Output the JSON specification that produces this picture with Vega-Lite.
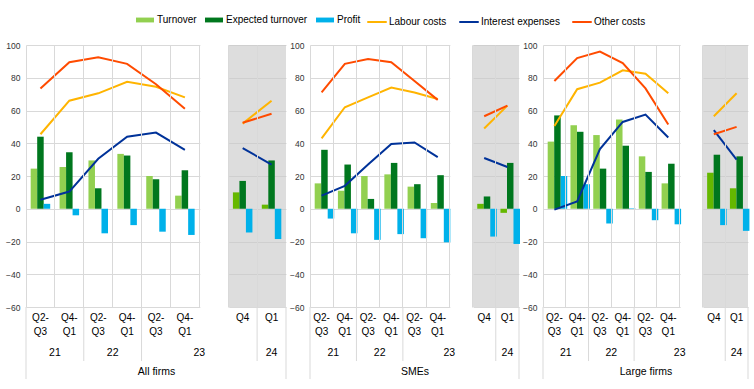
{
  "$schema": "https://vega.github.io/schema/vega-lite/v6.json",
  "padding": {"left": 5, "top": 11, "right": 5, "bottom": 5},
  "autosize": {"type": "pad"},
  "spacing": 2,
  "datasets": {
    "gap": [{"period": "gap"}],
    "outlook": [{"period": "Q4 23"}, {"period": "Q1 24"}],
    "periods": [
      {"period": "Q2-Q3 21", "label": "Q2-\nQ3"},
      {"period": "Q4-Q1 21", "label": "Q4-\nQ1"},
      {"period": "Q2-Q3 22", "label": "Q2-\nQ3"},
      {"period": "Q4-Q1 22", "label": "Q4-\nQ1"},
      {"period": "Q2-Q3 23", "label": "Q2-\nQ3"},
      {"period": "Q4-Q1 23", "label": "Q4-\nQ1"},
      {"period": "Q4 23", "label": "Q4"},
      {"period": "Q1 24", "label": "Q1"}
    ],
    "years": [
      {"year": "21", "period": "Q4-Q1 21"},
      {"year": "22", "period": "Q4-Q1 22"},
      {"year": "23", "period": "gap"},
      {"year": "24", "period": "Q1 24"}
    ],
    "breaks": [{"period": "Q2-Q3 22"}, {"period": "Q2-Q3 23"}, {"period": "Q1 24"}],
    "leftEdge": [{"period": "Q2-Q3 21"}],
    "rightEdge": [{"period": "Q1 24"}],
    "values": [
      {"group": "All firms", "period": "Q2-Q3 21", "series": "Turnover", "value": 24.5, "part": "history"},
      {"group": "All firms", "period": "Q4-Q1 21", "series": "Turnover", "value": 25.5, "part": "history"},
      {"group": "All firms", "period": "Q2-Q3 22", "series": "Turnover", "value": 29.5, "part": "history"},
      {"group": "All firms", "period": "Q4-Q1 22", "series": "Turnover", "value": 33.5, "part": "history"},
      {"group": "All firms", "period": "Q2-Q3 23", "series": "Turnover", "value": 20, "part": "history"},
      {"group": "All firms", "period": "Q4-Q1 23", "series": "Turnover", "value": 8, "part": "history"},
      {"group": "All firms", "period": "Q4 23", "series": "Turnover", "value": 10, "part": "outlook"},
      {"group": "All firms", "period": "Q1 24", "series": "Turnover", "value": 2.5, "part": "outlook"},
      {"group": "All firms", "period": "Q2-Q3 21", "series": "Expected turnover", "value": 44, "part": "history"},
      {"group": "All firms", "period": "Q4-Q1 21", "series": "Expected turnover", "value": 34.5, "part": "history"},
      {"group": "All firms", "period": "Q2-Q3 22", "series": "Expected turnover", "value": 12.5, "part": "history"},
      {"group": "All firms", "period": "Q4-Q1 22", "series": "Expected turnover", "value": 32.5, "part": "history"},
      {"group": "All firms", "period": "Q2-Q3 23", "series": "Expected turnover", "value": 18, "part": "history"},
      {"group": "All firms", "period": "Q4-Q1 23", "series": "Expected turnover", "value": 23.5, "part": "history"},
      {"group": "All firms", "period": "Q4 23", "series": "Expected turnover", "value": 17, "part": "outlook"},
      {"group": "All firms", "period": "Q1 24", "series": "Expected turnover", "value": 29.5, "part": "outlook"},
      {"group": "All firms", "period": "Q2-Q3 21", "series": "Profit", "value": 3, "part": "history"},
      {"group": "All firms", "period": "Q4-Q1 21", "series": "Profit", "value": -4, "part": "history"},
      {"group": "All firms", "period": "Q2-Q3 22", "series": "Profit", "value": -15, "part": "history"},
      {"group": "All firms", "period": "Q4-Q1 22", "series": "Profit", "value": -10, "part": "history"},
      {"group": "All firms", "period": "Q2-Q3 23", "series": "Profit", "value": -14, "part": "history"},
      {"group": "All firms", "period": "Q4-Q1 23", "series": "Profit", "value": -16, "part": "history"},
      {"group": "All firms", "period": "Q4 23", "series": "Profit", "value": -14.5, "part": "outlook"},
      {"group": "All firms", "period": "Q1 24", "series": "Profit", "value": -18.5, "part": "outlook"},
      {"group": "All firms", "period": "Q2-Q3 21", "series": "Labour costs", "value": 45.5, "part": "history"},
      {"group": "All firms", "period": "Q4-Q1 21", "series": "Labour costs", "value": 66, "part": "history"},
      {"group": "All firms", "period": "Q2-Q3 22", "series": "Labour costs", "value": 70.5, "part": "history"},
      {"group": "All firms", "period": "Q4-Q1 22", "series": "Labour costs", "value": 77.5, "part": "history"},
      {"group": "All firms", "period": "Q2-Q3 23", "series": "Labour costs", "value": 74.5, "part": "history"},
      {"group": "All firms", "period": "Q4-Q1 23", "series": "Labour costs", "value": 68, "part": "history"},
      {"group": "All firms", "period": "Q4 23", "series": "Labour costs", "value": 52, "part": "outlook"},
      {"group": "All firms", "period": "Q1 24", "series": "Labour costs", "value": 66, "part": "outlook"},
      {"group": "All firms", "period": "Q2-Q3 21", "series": "Interest expenses", "value": 5.5, "part": "history"},
      {"group": "All firms", "period": "Q4-Q1 21", "series": "Interest expenses", "value": 10.5, "part": "history"},
      {"group": "All firms", "period": "Q2-Q3 22", "series": "Interest expenses", "value": 30.5, "part": "history"},
      {"group": "All firms", "period": "Q4-Q1 22", "series": "Interest expenses", "value": 44, "part": "history"},
      {"group": "All firms", "period": "Q2-Q3 23", "series": "Interest expenses", "value": 46.5, "part": "history"},
      {"group": "All firms", "period": "Q4-Q1 23", "series": "Interest expenses", "value": 36, "part": "history"},
      {"group": "All firms", "period": "Q4 23", "series": "Interest expenses", "value": 37, "part": "outlook"},
      {"group": "All firms", "period": "Q1 24", "series": "Interest expenses", "value": 27, "part": "outlook"},
      {"group": "All firms", "period": "Q2-Q3 21", "series": "Other costs", "value": 73.5, "part": "history"},
      {"group": "All firms", "period": "Q4-Q1 21", "series": "Other costs", "value": 89.5, "part": "history"},
      {"group": "All firms", "period": "Q2-Q3 22", "series": "Other costs", "value": 92.5, "part": "history"},
      {"group": "All firms", "period": "Q4-Q1 22", "series": "Other costs", "value": 88.5, "part": "history"},
      {"group": "All firms", "period": "Q2-Q3 23", "series": "Other costs", "value": 76, "part": "history"},
      {"group": "All firms", "period": "Q4-Q1 23", "series": "Other costs", "value": 61, "part": "history"},
      {"group": "All firms", "period": "Q4 23", "series": "Other costs", "value": 52.5, "part": "outlook"},
      {"group": "All firms", "period": "Q1 24", "series": "Other costs", "value": 58, "part": "outlook"},

      {"group": "SMEs", "period": "Q2-Q3 21", "series": "Turnover", "value": 15.5, "part": "history"},
      {"group": "SMEs", "period": "Q4-Q1 21", "series": "Turnover", "value": 11, "part": "history"},
      {"group": "SMEs", "period": "Q2-Q3 22", "series": "Turnover", "value": 20, "part": "history"},
      {"group": "SMEs", "period": "Q4-Q1 22", "series": "Turnover", "value": 21, "part": "history"},
      {"group": "SMEs", "period": "Q2-Q3 23", "series": "Turnover", "value": 13.5, "part": "history"},
      {"group": "SMEs", "period": "Q4-Q1 23", "series": "Turnover", "value": 3.5, "part": "history"},
      {"group": "SMEs", "period": "Q4 23", "series": "Turnover", "value": 3, "part": "outlook"},
      {"group": "SMEs", "period": "Q1 24", "series": "Turnover", "value": -2.5, "part": "outlook"},
      {"group": "SMEs", "period": "Q2-Q3 21", "series": "Expected turnover", "value": 36, "part": "history"},
      {"group": "SMEs", "period": "Q4-Q1 21", "series": "Expected turnover", "value": 27, "part": "history"},
      {"group": "SMEs", "period": "Q2-Q3 22", "series": "Expected turnover", "value": 6, "part": "history"},
      {"group": "SMEs", "period": "Q4-Q1 22", "series": "Expected turnover", "value": 28, "part": "history"},
      {"group": "SMEs", "period": "Q2-Q3 23", "series": "Expected turnover", "value": 15, "part": "history"},
      {"group": "SMEs", "period": "Q4-Q1 23", "series": "Expected turnover", "value": 20.5, "part": "history"},
      {"group": "SMEs", "period": "Q4 23", "series": "Expected turnover", "value": 7.5, "part": "outlook"},
      {"group": "SMEs", "period": "Q1 24", "series": "Expected turnover", "value": 28, "part": "outlook"},
      {"group": "SMEs", "period": "Q2-Q3 21", "series": "Profit", "value": -6, "part": "history"},
      {"group": "SMEs", "period": "Q4-Q1 21", "series": "Profit", "value": -15, "part": "history"},
      {"group": "SMEs", "period": "Q2-Q3 22", "series": "Profit", "value": -19, "part": "history"},
      {"group": "SMEs", "period": "Q4-Q1 22", "series": "Profit", "value": -15.5, "part": "history"},
      {"group": "SMEs", "period": "Q2-Q3 23", "series": "Profit", "value": -18, "part": "history"},
      {"group": "SMEs", "period": "Q4-Q1 23", "series": "Profit", "value": -20.5, "part": "history"},
      {"group": "SMEs", "period": "Q4 23", "series": "Profit", "value": -17, "part": "outlook"},
      {"group": "SMEs", "period": "Q1 24", "series": "Profit", "value": -21.5, "part": "outlook"},
      {"group": "SMEs", "period": "Q2-Q3 21", "series": "Labour costs", "value": 43, "part": "history"},
      {"group": "SMEs", "period": "Q4-Q1 21", "series": "Labour costs", "value": 62, "part": "history"},
      {"group": "SMEs", "period": "Q2-Q3 22", "series": "Labour costs", "value": 68, "part": "history"},
      {"group": "SMEs", "period": "Q4-Q1 22", "series": "Labour costs", "value": 74, "part": "history"},
      {"group": "SMEs", "period": "Q2-Q3 23", "series": "Labour costs", "value": 71, "part": "history"},
      {"group": "SMEs", "period": "Q4-Q1 23", "series": "Labour costs", "value": 67, "part": "history"},
      {"group": "SMEs", "period": "Q4 23", "series": "Labour costs", "value": 49, "part": "outlook"},
      {"group": "SMEs", "period": "Q1 24", "series": "Labour costs", "value": 63, "part": "outlook"},
      {"group": "SMEs", "period": "Q2-Q3 21", "series": "Interest expenses", "value": 8, "part": "history"},
      {"group": "SMEs", "period": "Q4-Q1 21", "series": "Interest expenses", "value": 14, "part": "history"},
      {"group": "SMEs", "period": "Q2-Q3 22", "series": "Interest expenses", "value": 27, "part": "history"},
      {"group": "SMEs", "period": "Q4-Q1 22", "series": "Interest expenses", "value": 39.5, "part": "history"},
      {"group": "SMEs", "period": "Q2-Q3 23", "series": "Interest expenses", "value": 40.5, "part": "history"},
      {"group": "SMEs", "period": "Q4-Q1 23", "series": "Interest expenses", "value": 31.5, "part": "history"},
      {"group": "SMEs", "period": "Q4 23", "series": "Interest expenses", "value": 31, "part": "outlook"},
      {"group": "SMEs", "period": "Q1 24", "series": "Interest expenses", "value": 25.5, "part": "outlook"},
      {"group": "SMEs", "period": "Q2-Q3 21", "series": "Other costs", "value": 71, "part": "history"},
      {"group": "SMEs", "period": "Q4-Q1 21", "series": "Other costs", "value": 88.5, "part": "history"},
      {"group": "SMEs", "period": "Q2-Q3 22", "series": "Other costs", "value": 91.5, "part": "history"},
      {"group": "SMEs", "period": "Q4-Q1 22", "series": "Other costs", "value": 89.5, "part": "history"},
      {"group": "SMEs", "period": "Q2-Q3 23", "series": "Other costs", "value": 78, "part": "history"},
      {"group": "SMEs", "period": "Q4-Q1 23", "series": "Other costs", "value": 66.5, "part": "history"},
      {"group": "SMEs", "period": "Q4 23", "series": "Other costs", "value": 56.5, "part": "outlook"},
      {"group": "SMEs", "period": "Q1 24", "series": "Other costs", "value": 63, "part": "outlook"},

      {"group": "Large firms", "period": "Q2-Q3 21", "series": "Turnover", "value": 41, "part": "history"},
      {"group": "Large firms", "period": "Q4-Q1 21", "series": "Turnover", "value": 51, "part": "history"},
      {"group": "Large firms", "period": "Q2-Q3 22", "series": "Turnover", "value": 45, "part": "history"},
      {"group": "Large firms", "period": "Q4-Q1 22", "series": "Turnover", "value": 54.5, "part": "history"},
      {"group": "Large firms", "period": "Q2-Q3 23", "series": "Turnover", "value": 32, "part": "history"},
      {"group": "Large firms", "period": "Q4-Q1 23", "series": "Turnover", "value": 15.5, "part": "history"},
      {"group": "Large firms", "period": "Q4 23", "series": "Turnover", "value": 22, "part": "outlook"},
      {"group": "Large firms", "period": "Q1 24", "series": "Turnover", "value": 12.5, "part": "outlook"},
      {"group": "Large firms", "period": "Q2-Q3 21", "series": "Expected turnover", "value": 57, "part": "history"},
      {"group": "Large firms", "period": "Q4-Q1 21", "series": "Expected turnover", "value": 47, "part": "history"},
      {"group": "Large firms", "period": "Q2-Q3 22", "series": "Expected turnover", "value": 24.5, "part": "history"},
      {"group": "Large firms", "period": "Q4-Q1 22", "series": "Expected turnover", "value": 38.5, "part": "history"},
      {"group": "Large firms", "period": "Q2-Q3 23", "series": "Expected turnover", "value": 22.5, "part": "history"},
      {"group": "Large firms", "period": "Q4-Q1 23", "series": "Expected turnover", "value": 27.5, "part": "history"},
      {"group": "Large firms", "period": "Q4 23", "series": "Expected turnover", "value": 33, "part": "outlook"},
      {"group": "Large firms", "period": "Q1 24", "series": "Expected turnover", "value": 32, "part": "outlook"},
      {"group": "Large firms", "period": "Q2-Q3 21", "series": "Profit", "value": 20, "part": "history"},
      {"group": "Large firms", "period": "Q4-Q1 21", "series": "Profit", "value": 15, "part": "history"},
      {"group": "Large firms", "period": "Q2-Q3 22", "series": "Profit", "value": -9, "part": "history"},
      {"group": "Large firms", "period": "Q4-Q1 22", "series": "Profit", "value": 0.3, "part": "history"},
      {"group": "Large firms", "period": "Q2-Q3 23", "series": "Profit", "value": -7, "part": "history"},
      {"group": "Large firms", "period": "Q4-Q1 23", "series": "Profit", "value": -9.5, "part": "history"},
      {"group": "Large firms", "period": "Q4 23", "series": "Profit", "value": -10, "part": "outlook"},
      {"group": "Large firms", "period": "Q1 24", "series": "Profit", "value": -13.5, "part": "outlook"},
      {"group": "Large firms", "period": "Q2-Q3 21", "series": "Labour costs", "value": 50.5, "part": "history"},
      {"group": "Large firms", "period": "Q4-Q1 21", "series": "Labour costs", "value": 73, "part": "history"},
      {"group": "Large firms", "period": "Q2-Q3 22", "series": "Labour costs", "value": 77, "part": "history"},
      {"group": "Large firms", "period": "Q4-Q1 22", "series": "Labour costs", "value": 84.5, "part": "history"},
      {"group": "Large firms", "period": "Q2-Q3 23", "series": "Labour costs", "value": 82.5, "part": "history"},
      {"group": "Large firms", "period": "Q4-Q1 23", "series": "Labour costs", "value": 70.5, "part": "history"},
      {"group": "Large firms", "period": "Q4 23", "series": "Labour costs", "value": 56.5, "part": "outlook"},
      {"group": "Large firms", "period": "Q1 24", "series": "Labour costs", "value": 70.5, "part": "outlook"},
      {"group": "Large firms", "period": "Q2-Q3 21", "series": "Interest expenses", "value": -0.5, "part": "history"},
      {"group": "Large firms", "period": "Q4-Q1 21", "series": "Interest expenses", "value": 4.5, "part": "history"},
      {"group": "Large firms", "period": "Q2-Q3 22", "series": "Interest expenses", "value": 36.5, "part": "history"},
      {"group": "Large firms", "period": "Q4-Q1 22", "series": "Interest expenses", "value": 53, "part": "history"},
      {"group": "Large firms", "period": "Q2-Q3 23", "series": "Interest expenses", "value": 57.5, "part": "history"},
      {"group": "Large firms", "period": "Q4-Q1 23", "series": "Interest expenses", "value": 43.5, "part": "history"},
      {"group": "Large firms", "period": "Q4 23", "series": "Interest expenses", "value": 48, "part": "outlook"},
      {"group": "Large firms", "period": "Q1 24", "series": "Interest expenses", "value": 30, "part": "outlook"},
      {"group": "Large firms", "period": "Q2-Q3 21", "series": "Other costs", "value": 78, "part": "history"},
      {"group": "Large firms", "period": "Q4-Q1 21", "series": "Other costs", "value": 92, "part": "history"},
      {"group": "Large firms", "period": "Q2-Q3 22", "series": "Other costs", "value": 96, "part": "history"},
      {"group": "Large firms", "period": "Q4-Q1 22", "series": "Other costs", "value": 89, "part": "history"},
      {"group": "Large firms", "period": "Q2-Q3 23", "series": "Other costs", "value": 73.5, "part": "history"},
      {"group": "Large firms", "period": "Q4-Q1 23", "series": "Other costs", "value": 51.5, "part": "history"},
      {"group": "Large firms", "period": "Q4 23", "series": "Other costs", "value": 45.5, "part": "outlook"},
      {"group": "Large firms", "period": "Q1 24", "series": "Other costs", "value": 50, "part": "outlook"}
    ]
  },
  "hconcat": [
    {
      "width": 260, "height": 262,
      "layer": [
        {"data": {"name": "gap"}, "mark": {"type": "rect", "fill": "white", "xOffset": 1, "y2Offset": 1},
         "encoding": {
           "x": {"field": "period", "type": "nominal", "scale": {"domain": ["Q2-Q3 21","Q4-Q1 21","Q2-Q3 22","Q4-Q1 22","Q2-Q3 23","Q4-Q1 23","gap","Q4 23","Q1 24"], "paddingInner": 0, "paddingOuter": 0}, "axis": {"title": "All firms", "labels": false, "ticks": false, "domain": false, "grid": true, "bandPosition": 0}},
           "y": {"datum": 100, "type": "quantitative", "scale": {"domain": [-60, 100], "nice": false}, "axis": {"values": [-60, -40, -20, 0, 20, 40, 60, 80, 100], "title": null, "grid": true}},
           "y2": {"datum": -60}}},
        {"data": {"name": "outlook"}, "mark": {"type": "rect", "fill": "#c8c8c8", "opacity": 0.62},
         "encoding": {
           "x": {"field": "period", "type": "nominal", "scale": {"domain": ["Q2-Q3 21","Q4-Q1 21","Q2-Q3 22","Q4-Q1 22","Q2-Q3 23","Q4-Q1 23","gap","Q4 23","Q1 24"], "paddingInner": 0, "paddingOuter": 0}, "axis": {"title": "All firms", "labels": false, "ticks": false, "domain": false, "grid": true, "bandPosition": 0}},
           "y": {"datum": 100, "type": "quantitative", "scale": {"domain": [-60, 100], "nice": false}, "axis": {"values": [-60, -40, -20, 0, 20, 40, 60, 80, 100], "title": null, "grid": true}},
           "y2": {"datum": -60}}},
        {"data": {"name": "values"},
         "transform": [{"filter": "datum.group === 'All firms'"}, {"filter": {"field": "series", "oneOf": ["Turnover", "Expected turnover", "Profit"]}}],
         "mark": {"type": "bar"},
         "encoding": {
           "x": {"field": "period", "type": "nominal", "scale": {"domain": ["Q2-Q3 21","Q4-Q1 21","Q2-Q3 22","Q4-Q1 22","Q2-Q3 23","Q4-Q1 23","gap","Q4 23","Q1 24"], "paddingInner": 0, "paddingOuter": 0}, "axis": {"title": "All firms", "labels": false, "ticks": false, "domain": false, "grid": true, "bandPosition": 0}},
           "y": {"field": "value", "type": "quantitative", "scale": {"domain": [-60, 100], "nice": false}, "axis": {"values": [-60, -40, -20, 0, 20, 40, 60, 80, 100], "title": null, "grid": true}},
           "xOffset": {"field": "series", "scale": {"domain": ["Turnover", "Expected turnover", "Profit"], "paddingInner": 0, "paddingOuter": 0.72}},
           "fill": {"condition": {"test": "datum.series === 'Turnover' && datum.part === 'outlook'", "value": "#65b800"},
             "field": "series", "type": "nominal",
             "scale": {"domain": ["Turnover", "Expected turnover", "Profit"], "range": ["#92d050", "#00771e", "#00b1ea"]},
             "legend": {"orient": "none", "legendX": 110, "legendY": -34, "symbolType": "M-1,-0.27H1V0.27H-1Z", "symbolSize": 324, "labelOffset": 3}}}},
        {"data": {"name": "values"},
         "transform": [{"filter": "datum.group === 'All firms'"}, {"filter": {"field": "series", "oneOf": ["Labour costs", "Interest expenses", "Other costs"]}}],
         "mark": {"type": "line", "strokeWidth": 2},
         "encoding": {
           "x": {"field": "period", "type": "nominal", "scale": {"domain": ["Q2-Q3 21","Q4-Q1 21","Q2-Q3 22","Q4-Q1 22","Q2-Q3 23","Q4-Q1 23","gap","Q4 23","Q1 24"], "paddingInner": 0, "paddingOuter": 0}, "axis": {"title": "All firms", "labels": false, "ticks": false, "domain": false, "grid": true, "bandPosition": 0}},
           "y": {"field": "value", "type": "quantitative", "scale": {"domain": [-60, 100], "nice": false}, "axis": {"values": [-60, -40, -20, 0, 20, 40, 60, 80, 100], "title": null, "grid": true}},
           "stroke": {"field": "series", "type": "nominal",
             "scale": {"domain": ["Labour costs", "Interest expenses", "Other costs"], "range": ["#ffb400", "#003299", "#ff4b00"]},
             "legend": {"orient": "none", "legendX": 340, "legendY": -34, "symbolType": "stroke", "symbolSize": 380, "symbolStrokeWidth": 2, "labelOffset": 1}},
           "detail": {"field": "part"}}},
        {"data": {"name": "periods"},
         "mark": {"type": "text", "fontSize": 10, "baseline": "top", "lineBreak": "\n", "lineHeight": 14, "color": "#000"},
         "encoding": {
           "x": {"field": "period", "type": "nominal", "scale": {"domain": ["Q2-Q3 21","Q4-Q1 21","Q2-Q3 22","Q4-Q1 22","Q2-Q3 23","Q4-Q1 23","gap","Q4 23","Q1 24"], "paddingInner": 0, "paddingOuter": 0}, "axis": {"title": "All firms", "labels": false, "ticks": false, "domain": false, "grid": true, "bandPosition": 0}},
           "y": {"datum": -63.5, "type": "quantitative", "scale": {"domain": [-60, 100], "nice": false}, "axis": {"values": [-60, -40, -20, 0, 20, 40, 60, 80, 100], "title": null, "grid": true}},
           "text": {"field": "label"}}},
        {"data": {"name": "years"}, "transform": [{"filter": "datum.year !== '24'"}],
         "mark": {"type": "text", "fontSize": 10.5, "baseline": "middle", "color": "#000"},
         "encoding": {
           "x": {"field": "period", "type": "nominal", "bandPosition": 0, "scale": {"domain": ["Q2-Q3 21","Q4-Q1 21","Q2-Q3 22","Q4-Q1 22","Q2-Q3 23","Q4-Q1 23","gap","Q4 23","Q1 24"], "paddingInner": 0, "paddingOuter": 0}, "axis": {"title": "All firms", "labels": false, "ticks": false, "domain": false, "grid": true, "bandPosition": 0}},
           "y": {"datum": -88, "type": "quantitative", "scale": {"domain": [-60, 100], "nice": false}, "axis": {"values": [-60, -40, -20, 0, 20, 40, 60, 80, 100], "title": null, "grid": true}},
           "text": {"field": "year"}}},
        {"data": {"name": "years"}, "transform": [{"filter": "datum.year === '24'"}],
         "mark": {"type": "text", "fontSize": 10.5, "baseline": "middle", "color": "#000"},
         "encoding": {
           "x": {"field": "period", "type": "nominal", "scale": {"domain": ["Q2-Q3 21","Q4-Q1 21","Q2-Q3 22","Q4-Q1 22","Q2-Q3 23","Q4-Q1 23","gap","Q4 23","Q1 24"], "paddingInner": 0, "paddingOuter": 0}, "axis": {"title": "All firms", "labels": false, "ticks": false, "domain": false, "grid": true, "bandPosition": 0}},
           "y": {"datum": -88, "type": "quantitative", "scale": {"domain": [-60, 100], "nice": false}, "axis": {"values": [-60, -40, -20, 0, 20, 40, 60, 80, 100], "title": null, "grid": true}},
           "text": {"field": "year"}}},
        {"data": {"name": "breaks"}, "mark": {"type": "rule", "color": "#d9d9d9"},
         "encoding": {
           "x": {"field": "period", "type": "nominal", "bandPosition": 0, "scale": {"domain": ["Q2-Q3 21","Q4-Q1 21","Q2-Q3 22","Q4-Q1 22","Q2-Q3 23","Q4-Q1 23","gap","Q4 23","Q1 24"], "paddingInner": 0, "paddingOuter": 0}, "axis": {"title": "All firms", "labels": false, "ticks": false, "domain": false, "grid": true, "bandPosition": 0}},
           "y": {"datum": -60, "type": "quantitative", "scale": {"domain": [-60, 100], "nice": false}, "axis": {"values": [-60, -40, -20, 0, 20, 40, 60, 80, 100], "title": null, "grid": true}},
           "y2": {"datum": -93}}},
        {"data": {"name": "leftEdge"}, "mark": {"type": "rule", "color": "#d9d9d9"},
         "encoding": {
           "x": {"field": "period", "type": "nominal", "bandPosition": 0, "scale": {"domain": ["Q2-Q3 21","Q4-Q1 21","Q2-Q3 22","Q4-Q1 22","Q2-Q3 23","Q4-Q1 23","gap","Q4 23","Q1 24"], "paddingInner": 0, "paddingOuter": 0}, "axis": {"title": "All firms", "labels": false, "ticks": false, "domain": false, "grid": true, "bandPosition": 0}},
           "y": {"datum": -60, "type": "quantitative", "scale": {"domain": [-60, 100], "nice": false}, "axis": {"values": [-60, -40, -20, 0, 20, 40, 60, 80, 100], "title": null, "grid": true}},
           "y2": {"datum": -104}}},
        {"data": {"name": "rightEdge"}, "mark": {"type": "rule", "color": "#d9d9d9"},
         "encoding": {
           "x": {"field": "period", "type": "nominal", "bandPosition": 1, "scale": {"domain": ["Q2-Q3 21","Q4-Q1 21","Q2-Q3 22","Q4-Q1 22","Q2-Q3 23","Q4-Q1 23","gap","Q4 23","Q1 24"], "paddingInner": 0, "paddingOuter": 0}, "axis": {"title": "All firms", "labels": false, "ticks": false, "domain": false, "grid": true, "bandPosition": 0}},
           "y": {"datum": -60, "type": "quantitative", "scale": {"domain": [-60, 100], "nice": false}, "axis": {"values": [-60, -40, -20, 0, 20, 40, 60, 80, 100], "title": null, "grid": true}},
           "y2": {"datum": -104}}}
      ]
    },
    {
      "width": 209, "height": 262,
      "layer": [
        {"data": {"name": "gap"}, "mark": {"type": "rect", "fill": "white", "xOffset": 1, "y2Offset": 1},
         "encoding": {
           "x": {"field": "period", "type": "nominal", "scale": {"domain": ["Q2-Q3 21","Q4-Q1 21","Q2-Q3 22","Q4-Q1 22","Q2-Q3 23","Q4-Q1 23","gap","Q4 23","Q1 24"], "paddingInner": 0, "paddingOuter": 0}, "axis": {"title": "SMEs", "labels": false, "ticks": false, "domain": false, "grid": true, "bandPosition": 0}},
           "y": {"datum": 100, "type": "quantitative", "scale": {"domain": [-60, 100], "nice": false}, "axis": {"values": [-60, -40, -20, 0, 20, 40, 60, 80, 100], "title": null, "grid": true}},
           "y2": {"datum": -60}}},
        {"data": {"name": "outlook"}, "mark": {"type": "rect", "fill": "#c8c8c8", "opacity": 0.62},
         "encoding": {
           "x": {"field": "period", "type": "nominal", "scale": {"domain": ["Q2-Q3 21","Q4-Q1 21","Q2-Q3 22","Q4-Q1 22","Q2-Q3 23","Q4-Q1 23","gap","Q4 23","Q1 24"], "paddingInner": 0, "paddingOuter": 0}, "axis": {"title": "SMEs", "labels": false, "ticks": false, "domain": false, "grid": true, "bandPosition": 0}},
           "y": {"datum": 100, "type": "quantitative", "scale": {"domain": [-60, 100], "nice": false}, "axis": {"values": [-60, -40, -20, 0, 20, 40, 60, 80, 100], "title": null, "grid": true}},
           "y2": {"datum": -60}}},
        {"data": {"name": "values"},
         "transform": [{"filter": "datum.group === 'SMEs'"}, {"filter": {"field": "series", "oneOf": ["Turnover", "Expected turnover", "Profit"]}}],
         "mark": {"type": "bar"},
         "encoding": {
           "x": {"field": "period", "type": "nominal", "scale": {"domain": ["Q2-Q3 21","Q4-Q1 21","Q2-Q3 22","Q4-Q1 22","Q2-Q3 23","Q4-Q1 23","gap","Q4 23","Q1 24"], "paddingInner": 0, "paddingOuter": 0}, "axis": {"title": "SMEs", "labels": false, "ticks": false, "domain": false, "grid": true, "bandPosition": 0}},
           "y": {"field": "value", "type": "quantitative", "scale": {"domain": [-60, 100], "nice": false}, "axis": {"values": [-60, -40, -20, 0, 20, 40, 60, 80, 100], "title": null, "grid": true}},
           "xOffset": {"field": "series", "scale": {"domain": ["Turnover", "Expected turnover", "Profit"], "paddingInner": 0, "paddingOuter": 0.72}},
           "fill": {"condition": {"test": "datum.series === 'Turnover' && datum.part === 'outlook'", "value": "#65b800"},
             "field": "series", "type": "nominal"}}},
        {"data": {"name": "values"},
         "transform": [{"filter": "datum.group === 'SMEs'"}, {"filter": {"field": "series", "oneOf": ["Labour costs", "Interest expenses", "Other costs"]}}],
         "mark": {"type": "line", "strokeWidth": 2},
         "encoding": {
           "x": {"field": "period", "type": "nominal", "scale": {"domain": ["Q2-Q3 21","Q4-Q1 21","Q2-Q3 22","Q4-Q1 22","Q2-Q3 23","Q4-Q1 23","gap","Q4 23","Q1 24"], "paddingInner": 0, "paddingOuter": 0}, "axis": {"title": "SMEs", "labels": false, "ticks": false, "domain": false, "grid": true, "bandPosition": 0}},
           "y": {"field": "value", "type": "quantitative", "scale": {"domain": [-60, 100], "nice": false}, "axis": {"values": [-60, -40, -20, 0, 20, 40, 60, 80, 100], "title": null, "grid": true}},
           "stroke": {"field": "series", "type": "nominal"},
           "detail": {"field": "part"}}},
        {"data": {"name": "periods"},
         "mark": {"type": "text", "fontSize": 10, "baseline": "top", "lineBreak": "\n", "lineHeight": 14, "color": "#000"},
         "encoding": {
           "x": {"field": "period", "type": "nominal", "scale": {"domain": ["Q2-Q3 21","Q4-Q1 21","Q2-Q3 22","Q4-Q1 22","Q2-Q3 23","Q4-Q1 23","gap","Q4 23","Q1 24"], "paddingInner": 0, "paddingOuter": 0}, "axis": {"title": "SMEs", "labels": false, "ticks": false, "domain": false, "grid": true, "bandPosition": 0}},
           "y": {"datum": -63.5, "type": "quantitative", "scale": {"domain": [-60, 100], "nice": false}, "axis": {"values": [-60, -40, -20, 0, 20, 40, 60, 80, 100], "title": null, "grid": true}},
           "text": {"field": "label"}}},
        {"data": {"name": "years"}, "transform": [{"filter": "datum.year !== '24'"}],
         "mark": {"type": "text", "fontSize": 10.5, "baseline": "middle", "color": "#000"},
         "encoding": {
           "x": {"field": "period", "type": "nominal", "bandPosition": 0, "scale": {"domain": ["Q2-Q3 21","Q4-Q1 21","Q2-Q3 22","Q4-Q1 22","Q2-Q3 23","Q4-Q1 23","gap","Q4 23","Q1 24"], "paddingInner": 0, "paddingOuter": 0}, "axis": {"title": "SMEs", "labels": false, "ticks": false, "domain": false, "grid": true, "bandPosition": 0}},
           "y": {"datum": -88, "type": "quantitative", "scale": {"domain": [-60, 100], "nice": false}, "axis": {"values": [-60, -40, -20, 0, 20, 40, 60, 80, 100], "title": null, "grid": true}},
           "text": {"field": "year"}}},
        {"data": {"name": "years"}, "transform": [{"filter": "datum.year === '24'"}],
         "mark": {"type": "text", "fontSize": 10.5, "baseline": "middle", "color": "#000"},
         "encoding": {
           "x": {"field": "period", "type": "nominal", "scale": {"domain": ["Q2-Q3 21","Q4-Q1 21","Q2-Q3 22","Q4-Q1 22","Q2-Q3 23","Q4-Q1 23","gap","Q4 23","Q1 24"], "paddingInner": 0, "paddingOuter": 0}, "axis": {"title": "SMEs", "labels": false, "ticks": false, "domain": false, "grid": true, "bandPosition": 0}},
           "y": {"datum": -88, "type": "quantitative", "scale": {"domain": [-60, 100], "nice": false}, "axis": {"values": [-60, -40, -20, 0, 20, 40, 60, 80, 100], "title": null, "grid": true}},
           "text": {"field": "year"}}},
        {"data": {"name": "breaks"}, "mark": {"type": "rule", "color": "#d9d9d9"},
         "encoding": {
           "x": {"field": "period", "type": "nominal", "bandPosition": 0, "scale": {"domain": ["Q2-Q3 21","Q4-Q1 21","Q2-Q3 22","Q4-Q1 22","Q2-Q3 23","Q4-Q1 23","gap","Q4 23","Q1 24"], "paddingInner": 0, "paddingOuter": 0}, "axis": {"title": "SMEs", "labels": false, "ticks": false, "domain": false, "grid": true, "bandPosition": 0}},
           "y": {"datum": -60, "type": "quantitative", "scale": {"domain": [-60, 100], "nice": false}, "axis": {"values": [-60, -40, -20, 0, 20, 40, 60, 80, 100], "title": null, "grid": true}},
           "y2": {"datum": -93}}},
        {"data": {"name": "leftEdge"}, "mark": {"type": "rule", "color": "#d9d9d9"},
         "encoding": {
           "x": {"field": "period", "type": "nominal", "bandPosition": 0, "scale": {"domain": ["Q2-Q3 21","Q4-Q1 21","Q2-Q3 22","Q4-Q1 22","Q2-Q3 23","Q4-Q1 23","gap","Q4 23","Q1 24"], "paddingInner": 0, "paddingOuter": 0}, "axis": {"title": "SMEs", "labels": false, "ticks": false, "domain": false, "grid": true, "bandPosition": 0}},
           "y": {"datum": -60, "type": "quantitative", "scale": {"domain": [-60, 100], "nice": false}, "axis": {"values": [-60, -40, -20, 0, 20, 40, 60, 80, 100], "title": null, "grid": true}},
           "y2": {"datum": -104}}},
        {"data": {"name": "rightEdge"}, "mark": {"type": "rule", "color": "#d9d9d9"},
         "encoding": {
           "x": {"field": "period", "type": "nominal", "bandPosition": 1, "scale": {"domain": ["Q2-Q3 21","Q4-Q1 21","Q2-Q3 22","Q4-Q1 22","Q2-Q3 23","Q4-Q1 23","gap","Q4 23","Q1 24"], "paddingInner": 0, "paddingOuter": 0}, "axis": {"title": "SMEs", "labels": false, "ticks": false, "domain": false, "grid": true, "bandPosition": 0}},
           "y": {"datum": -60, "type": "quantitative", "scale": {"domain": [-60, 100], "nice": false}, "axis": {"values": [-60, -40, -20, 0, 20, 40, 60, 80, 100], "title": null, "grid": true}},
           "y2": {"datum": -104}}}
      ]
    },
    {
      "width": 205, "height": 262,
      "layer": [
        {"data": {"name": "gap"}, "mark": {"type": "rect", "fill": "white", "xOffset": 1, "y2Offset": 1},
         "encoding": {
           "x": {"field": "period", "type": "nominal", "scale": {"domain": ["Q2-Q3 21","Q4-Q1 21","Q2-Q3 22","Q4-Q1 22","Q2-Q3 23","Q4-Q1 23","gap","Q4 23","Q1 24"], "paddingInner": 0, "paddingOuter": 0}, "axis": {"title": "Large firms", "labels": false, "ticks": false, "domain": false, "grid": true, "bandPosition": 0}},
           "y": {"datum": 100, "type": "quantitative", "scale": {"domain": [-60, 100], "nice": false}, "axis": {"values": [-60, -40, -20, 0, 20, 40, 60, 80, 100], "title": null, "grid": true}},
           "y2": {"datum": -60}}},
        {"data": {"name": "outlook"}, "mark": {"type": "rect", "fill": "#c8c8c8", "opacity": 0.62},
         "encoding": {
           "x": {"field": "period", "type": "nominal", "scale": {"domain": ["Q2-Q3 21","Q4-Q1 21","Q2-Q3 22","Q4-Q1 22","Q2-Q3 23","Q4-Q1 23","gap","Q4 23","Q1 24"], "paddingInner": 0, "paddingOuter": 0}, "axis": {"title": "Large firms", "labels": false, "ticks": false, "domain": false, "grid": true, "bandPosition": 0}},
           "y": {"datum": 100, "type": "quantitative", "scale": {"domain": [-60, 100], "nice": false}, "axis": {"values": [-60, -40, -20, 0, 20, 40, 60, 80, 100], "title": null, "grid": true}},
           "y2": {"datum": -60}}},
        {"data": {"name": "values"},
         "transform": [{"filter": "datum.group === 'Large firms'"}, {"filter": {"field": "series", "oneOf": ["Turnover", "Expected turnover", "Profit"]}}],
         "mark": {"type": "bar"},
         "encoding": {
           "x": {"field": "period", "type": "nominal", "scale": {"domain": ["Q2-Q3 21","Q4-Q1 21","Q2-Q3 22","Q4-Q1 22","Q2-Q3 23","Q4-Q1 23","gap","Q4 23","Q1 24"], "paddingInner": 0, "paddingOuter": 0}, "axis": {"title": "Large firms", "labels": false, "ticks": false, "domain": false, "grid": true, "bandPosition": 0}},
           "y": {"field": "value", "type": "quantitative", "scale": {"domain": [-60, 100], "nice": false}, "axis": {"values": [-60, -40, -20, 0, 20, 40, 60, 80, 100], "title": null, "grid": true}},
           "xOffset": {"field": "series", "scale": {"domain": ["Turnover", "Expected turnover", "Profit"], "paddingInner": 0, "paddingOuter": 0.72}},
           "fill": {"condition": {"test": "datum.series === 'Turnover' && datum.part === 'outlook'", "value": "#65b800"},
             "field": "series", "type": "nominal"}}},
        {"data": {"name": "values"},
         "transform": [{"filter": "datum.group === 'Large firms'"}, {"filter": {"field": "series", "oneOf": ["Labour costs", "Interest expenses", "Other costs"]}}],
         "mark": {"type": "line", "strokeWidth": 2},
         "encoding": {
           "x": {"field": "period", "type": "nominal", "scale": {"domain": ["Q2-Q3 21","Q4-Q1 21","Q2-Q3 22","Q4-Q1 22","Q2-Q3 23","Q4-Q1 23","gap","Q4 23","Q1 24"], "paddingInner": 0, "paddingOuter": 0}, "axis": {"title": "Large firms", "labels": false, "ticks": false, "domain": false, "grid": true, "bandPosition": 0}},
           "y": {"field": "value", "type": "quantitative", "scale": {"domain": [-60, 100], "nice": false}, "axis": {"values": [-60, -40, -20, 0, 20, 40, 60, 80, 100], "title": null, "grid": true}},
           "stroke": {"field": "series", "type": "nominal"},
           "detail": {"field": "part"}}},
        {"data": {"name": "periods"},
         "mark": {"type": "text", "fontSize": 10, "baseline": "top", "lineBreak": "\n", "lineHeight": 14, "color": "#000"},
         "encoding": {
           "x": {"field": "period", "type": "nominal", "scale": {"domain": ["Q2-Q3 21","Q4-Q1 21","Q2-Q3 22","Q4-Q1 22","Q2-Q3 23","Q4-Q1 23","gap","Q4 23","Q1 24"], "paddingInner": 0, "paddingOuter": 0}, "axis": {"title": "Large firms", "labels": false, "ticks": false, "domain": false, "grid": true, "bandPosition": 0}},
           "y": {"datum": -63.5, "type": "quantitative", "scale": {"domain": [-60, 100], "nice": false}, "axis": {"values": [-60, -40, -20, 0, 20, 40, 60, 80, 100], "title": null, "grid": true}},
           "text": {"field": "label"}}},
        {"data": {"name": "years"}, "transform": [{"filter": "datum.year !== '24'"}],
         "mark": {"type": "text", "fontSize": 10.5, "baseline": "middle", "color": "#000"},
         "encoding": {
           "x": {"field": "period", "type": "nominal", "bandPosition": 0, "scale": {"domain": ["Q2-Q3 21","Q4-Q1 21","Q2-Q3 22","Q4-Q1 22","Q2-Q3 23","Q4-Q1 23","gap","Q4 23","Q1 24"], "paddingInner": 0, "paddingOuter": 0}, "axis": {"title": "Large firms", "labels": false, "ticks": false, "domain": false, "grid": true, "bandPosition": 0}},
           "y": {"datum": -88, "type": "quantitative", "scale": {"domain": [-60, 100], "nice": false}, "axis": {"values": [-60, -40, -20, 0, 20, 40, 60, 80, 100], "title": null, "grid": true}},
           "text": {"field": "year"}}},
        {"data": {"name": "years"}, "transform": [{"filter": "datum.year === '24'"}],
         "mark": {"type": "text", "fontSize": 10.5, "baseline": "middle", "color": "#000"},
         "encoding": {
           "x": {"field": "period", "type": "nominal", "scale": {"domain": ["Q2-Q3 21","Q4-Q1 21","Q2-Q3 22","Q4-Q1 22","Q2-Q3 23","Q4-Q1 23","gap","Q4 23","Q1 24"], "paddingInner": 0, "paddingOuter": 0}, "axis": {"title": "Large firms", "labels": false, "ticks": false, "domain": false, "grid": true, "bandPosition": 0}},
           "y": {"datum": -88, "type": "quantitative", "scale": {"domain": [-60, 100], "nice": false}, "axis": {"values": [-60, -40, -20, 0, 20, 40, 60, 80, 100], "title": null, "grid": true}},
           "text": {"field": "year"}}},
        {"data": {"name": "breaks"}, "mark": {"type": "rule", "color": "#d9d9d9"},
         "encoding": {
           "x": {"field": "period", "type": "nominal", "bandPosition": 0, "scale": {"domain": ["Q2-Q3 21","Q4-Q1 21","Q2-Q3 22","Q4-Q1 22","Q2-Q3 23","Q4-Q1 23","gap","Q4 23","Q1 24"], "paddingInner": 0, "paddingOuter": 0}, "axis": {"title": "Large firms", "labels": false, "ticks": false, "domain": false, "grid": true, "bandPosition": 0}},
           "y": {"datum": -60, "type": "quantitative", "scale": {"domain": [-60, 100], "nice": false}, "axis": {"values": [-60, -40, -20, 0, 20, 40, 60, 80, 100], "title": null, "grid": true}},
           "y2": {"datum": -93}}},
        {"data": {"name": "leftEdge"}, "mark": {"type": "rule", "color": "#d9d9d9"},
         "encoding": {
           "x": {"field": "period", "type": "nominal", "bandPosition": 0, "scale": {"domain": ["Q2-Q3 21","Q4-Q1 21","Q2-Q3 22","Q4-Q1 22","Q2-Q3 23","Q4-Q1 23","gap","Q4 23","Q1 24"], "paddingInner": 0, "paddingOuter": 0}, "axis": {"title": "Large firms", "labels": false, "ticks": false, "domain": false, "grid": true, "bandPosition": 0}},
           "y": {"datum": -60, "type": "quantitative", "scale": {"domain": [-60, 100], "nice": false}, "axis": {"values": [-60, -40, -20, 0, 20, 40, 60, 80, 100], "title": null, "grid": true}},
           "y2": {"datum": -104}}},
        {"data": {"name": "rightEdge"}, "mark": {"type": "rule", "color": "#d9d9d9"},
         "encoding": {
           "x": {"field": "period", "type": "nominal", "bandPosition": 1, "scale": {"domain": ["Q2-Q3 21","Q4-Q1 21","Q2-Q3 22","Q4-Q1 22","Q2-Q3 23","Q4-Q1 23","gap","Q4 23","Q1 24"], "paddingInner": 0, "paddingOuter": 0}, "axis": {"title": "Large firms", "labels": false, "ticks": false, "domain": false, "grid": true, "bandPosition": 0}},
           "y": {"datum": -60, "type": "quantitative", "scale": {"domain": [-60, 100], "nice": false}, "axis": {"values": [-60, -40, -20, 0, 20, 40, 60, 80, 100], "title": null, "grid": true}},
           "y2": {"datum": -104}}}
      ]
    }
  ],
  "config": {
    "font": "Liberation Sans",
    "view": {"stroke": null},
    "axisX": {"gridColor": "#d9d9d9", "titlePadding": 59, "titleFontSize": 10.5, "titleFontWeight": "normal", "titleColor": "#000"},
    "axisY": {"ticks": false, "domain": false, "gridColor": "#d9d9d9", "labelFontSize": 8.5, "labelPadding": 6, "labelColor": "#333"},
    "legend": {"direction": "horizontal", "title": null, "padding": 0, "symbolStrokeWidth": 0, "labelFontSize": 10, "labelColor": "#000", "columnPadding": 8}
  }
}
